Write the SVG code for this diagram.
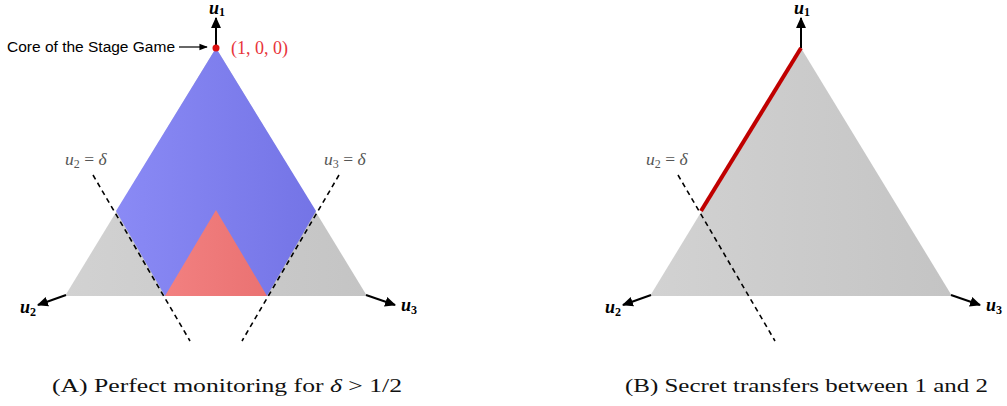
<svg xmlns="http://www.w3.org/2000/svg" width="1007" height="406" viewBox="0 0 1007 406">
<style>
.ax{stroke:#000;stroke-width:2;fill:none}
.dash{stroke:#000;stroke-width:1.6;stroke-dasharray:5,4;fill:none}
.lbl{font-family:"Liberation Serif",serif;font-style:italic;font-weight:bold;font-size:18px;fill:#000}
.del{font-family:"Liberation Serif",serif;font-size:17.5px;fill:#555}
.cap{font-family:"Liberation Serif",serif;font-size:19.5px;fill:#111}
</style>
<defs>
<linearGradient id="gray" x1="0" y1="0" x2="1" y2="0"><stop offset="0" stop-color="#d2d2d2"/><stop offset="1" stop-color="#c4c4c4"/></linearGradient>
<linearGradient id="blue" x1="0" y1="0" x2="1" y2="0"><stop offset="0" stop-color="#8a8af5"/><stop offset="1" stop-color="#7474e6"/></linearGradient>
<linearGradient id="red" x1="0" y1="0" x2="1" y2="0"><stop offset="0" stop-color="#f28080"/><stop offset="1" stop-color="#ea7272"/></linearGradient>
<marker id="ah" viewBox="0 0 10 10" refX="9" refY="5" markerWidth="5.5" markerHeight="5.5" orient="auto" markerUnits="strokeWidth"><path d="M0,0.5 L10,5 L0,9.5 z" fill="#000"/></marker>
<marker id="ahs" viewBox="0 0 10 10" refX="9" refY="5" markerWidth="8" markerHeight="7" orient="auto" markerUnits="strokeWidth"><path d="M0,1 L10,5 L0,9 z" fill="#000"/></marker>
</defs>

<g id="panelA">
<g id="simplexA"><polygon points="65,296 216,48 367,296" fill="url(#gray)"/></g>
<g id="blueRegion"><polygon points="216,48 116,211 165,296 267,296 316,211" fill="url(#blue)"/></g>
<g id="redRegion"><polygon points="216,210 165,296 267,296" fill="url(#red)"/></g>
<g id="connectorsA">
<line class="dash" x1="93" y1="175" x2="190" y2="341"/>
<line class="dash" x1="339" y1="175" x2="242" y2="341"/>
<line class="ax" x1="216" y1="48" x2="216" y2="18" marker-end="url(#ah)"/>
<line class="ax" x1="66" y1="295" x2="38" y2="305" marker-end="url(#ah)"/>
<line class="ax" x1="366" y1="295" x2="395" y2="305" marker-end="url(#ah)"/>
<line x1="179" y1="47" x2="207" y2="47" stroke="#000" stroke-width="1.2" marker-end="url(#ahs)"/>
</g>
<g id="coreDot"><circle cx="216" cy="48" r="3.5" fill="#dd1111"/></g>
<text x="7" y="52" font-family="Liberation Sans, Arial, sans-serif" font-size="15.5" fill="#000">Core of the Stage Game</text>
<text x="231" y="54" font-family="Liberation Serif, serif" font-size="18" fill="#e8343a">(1, 0, 0)</text>
<text class="lbl" x="209" y="14">u<tspan font-size="12" dy="2" font-style="normal">1</tspan></text>
<text class="lbl" x="20" y="313">u<tspan font-size="12" dy="3" font-style="normal">2</tspan></text>
<text class="lbl" x="401" y="311">u<tspan font-size="12" dy="3" font-style="normal">3</tspan></text>
<text class="del" x="65" y="165"><tspan font-style="italic">u</tspan><tspan font-size="12" dy="3">2</tspan><tspan dy="-3"> = </tspan><tspan font-style="italic">δ</tspan></text>
<text class="del" x="324" y="165"><tspan font-style="italic">u</tspan><tspan font-size="12" dy="3">3</tspan><tspan dy="-3"> = </tspan><tspan font-style="italic">δ</tspan></text>
<text class="cap" x="52" y="392" textLength="350" lengthAdjust="spacingAndGlyphs">(A) Perfect monitoring for <tspan font-style="italic">δ</tspan> &gt; 1/2</text>
</g>

<g id="panelB">
<g id="simplexB"><polygon points="650,296 801,48 952,296" fill="url(#gray)"/></g>
<g id="connectorsB">
<line class="dash" x1="678" y1="175" x2="775" y2="341"/>
<line class="ax" x1="801" y1="48" x2="801" y2="18" marker-end="url(#ah)"/>
<line class="ax" x1="651" y1="295" x2="623" y2="305" marker-end="url(#ah)"/>
<line class="ax" x1="951" y1="295" x2="980" y2="305" marker-end="url(#ah)"/>
</g>
<g id="transferEdge"><line x1="801" y1="48" x2="701" y2="211" stroke="#c00000" stroke-width="4" stroke-linecap="butt"/></g>
<text class="lbl" x="794" y="14">u<tspan font-size="12" dy="2" font-style="normal">1</tspan></text>
<text class="lbl" x="605" y="313">u<tspan font-size="12" dy="3" font-style="normal">2</tspan></text>
<text class="lbl" x="986" y="311">u<tspan font-size="12" dy="3" font-style="normal">3</tspan></text>
<text class="del" x="646" y="165"><tspan font-style="italic">u</tspan><tspan font-size="12" dy="3">2</tspan><tspan dy="-3"> = </tspan><tspan font-style="italic">δ</tspan></text>
<text class="cap" x="625" y="392" textLength="363" lengthAdjust="spacingAndGlyphs">(B) Secret transfers between 1 and 2</text>
</g>
</svg>
